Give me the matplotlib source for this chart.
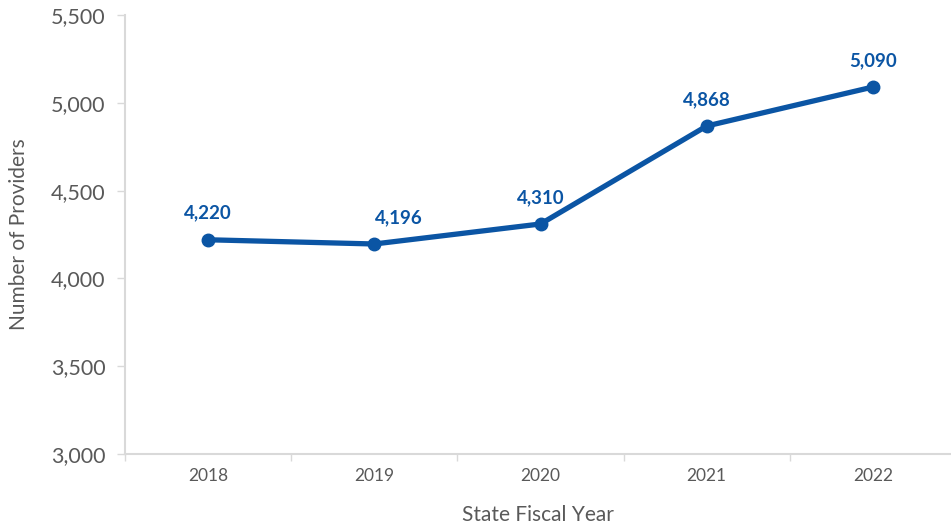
import matplotlib
matplotlib.use("Agg")
import matplotlib.pyplot as plt
from matplotlib.ticker import FuncFormatter, FixedLocator
import numpy as np

years = ["2018", "2019", "2020", "2021", "2022"]
providers = [4220, 4196, 4310, 4868, 5090]
# horizontal nudge of each value label, in points
label_dx = [0, 18, 0, 0, 0]

blue = "#0B55A4"
grey = "#595959"
axis_grey = "#D9D9D9"

plt.rcParams['font.family'] = ['Lato', 'DejaVu Sans']

fig = plt.figure(figsize=(9.51, 5.29), dpi=100)
ax = fig.add_axes([0.1315, 0.1418, 0.8685, 0.8298])

x = np.arange(len(years))
ax.plot(x, providers, color=blue, linewidth=3.8, marker="o", markersize=9,
        solid_joinstyle="round", solid_capstyle="round", zorder=3)

for xi, yi, dx in zip(x, providers, label_dx):
    ax.annotate(f"{yi:,}", (xi, yi), xytext=(dx, 13), textcoords="offset points",
                ha="center", va="bottom", fontsize=13.5, fontweight="bold", color=blue)

ax.set_xlim(-0.5, 4.47)
ax.set_ylim(3000, 5500)
ax.set_yticks(np.arange(3000, 5501, 500))
ax.yaxis.set_major_formatter(FuncFormatter(lambda v, p: f"{int(v):,}"))

ax.set_xticks(x)
ax.set_xticklabels(years)
ax.xaxis.set_minor_locator(FixedLocator(np.arange(-0.5, 4.6, 1)))
ax.tick_params(axis="x", which="major", length=0, pad=10, labelsize=12.5, labelcolor=grey)
ax.tick_params(axis="x", which="minor", length=5, width=1, color=axis_grey, direction="out")
ax.tick_params(axis="y", length=6, width=1, color=axis_grey, pad=8, labelsize=15.5, labelcolor=grey)

for s in ["top", "right"]:
    ax.spines[s].set_visible(False)
for s in ["left", "bottom"]:
    ax.spines[s].set_color(axis_grey)
    ax.spines[s].set_linewidth(1.5)

ax.set_xlabel("State Fiscal Year", fontsize=15, color=grey, labelpad=15)
ax.set_ylabel("Number of Providers", fontsize=15, color=grey)
ax.yaxis.set_label_coords(-0.116, 0.5)

fig.savefig("out.png", dpi=100)
